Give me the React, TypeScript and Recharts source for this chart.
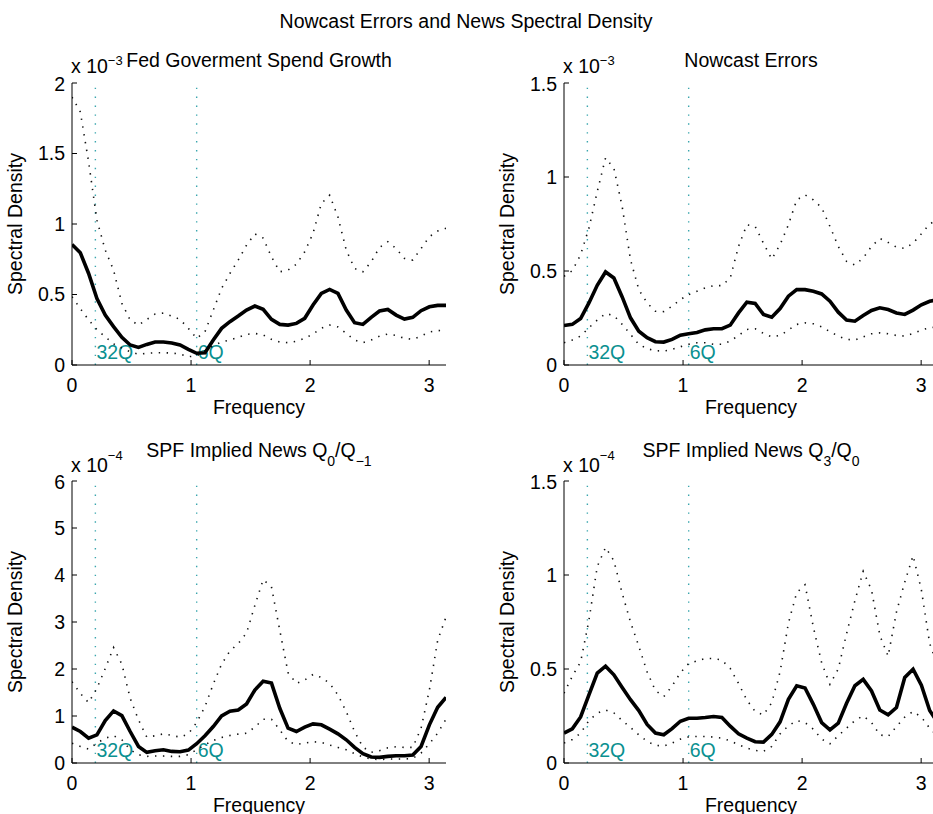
import React from 'react';
import { LineChart, Line, XAxis, YAxis, ReferenceLine } from 'recharts';

const FONT = '"Liberation Sans", Arial, Helvetica, sans-serif';
const TEAL = '#0a9090';
const REF_LINE = '#3aa6ae';
const FS = 19.5;

// frequency grid (radians), 0..pi
const freq = [
  0, 0.0698, 0.1396, 0.2094, 0.2793, 0.3491, 0.4189, 0.4887, 0.5585, 0.6283,
  0.6981, 0.7679, 0.8378, 0.9076, 0.9774, 1.0472, 1.117, 1.1868, 1.2566, 1.3265,
  1.3963, 1.4661, 1.5359, 1.6057, 1.6755, 1.7453, 1.8151, 1.885, 1.9548, 2.0246,
  2.0944, 2.1642, 2.234, 2.3038, 2.3736, 2.4435, 2.5133, 2.5831, 2.6529, 2.7227,
  2.7925, 2.8623, 2.9322, 3.002, 3.0718, 3.1416,
];

// periods marked with vertical lines
const periods = [32, 6];

// Fed Goverment Spend Growth (x 1e-3)
const fedMid = [0.855, 0.796, 0.649, 0.472, 0.354, 0.272, 0.196, 0.142, 0.125, 0.146, 0.163, 0.163, 0.156, 0.142, 0.111, 0.083, 0.087, 0.177, 0.26, 0.307, 0.347, 0.39, 0.418, 0.395, 0.324, 0.288, 0.283, 0.295, 0.331, 0.425, 0.508, 0.536, 0.508, 0.39, 0.3, 0.288, 0.338, 0.383, 0.394, 0.354, 0.326, 0.338, 0.385, 0.413, 0.423, 0.423];
const fedHi = [1.9, 1.795, 1.44, 1.027, 0.815, 0.673, 0.437, 0.319, 0.283, 0.323, 0.361, 0.368, 0.347, 0.323, 0.26, 0.189, 0.236, 0.39, 0.543, 0.649, 0.744, 0.85, 0.93, 0.9, 0.767, 0.661, 0.673, 0.715, 0.803, 0.933, 1.145, 1.204, 1.05, 0.815, 0.685, 0.661, 0.732, 0.834, 0.874, 0.826, 0.756, 0.744, 0.826, 0.91, 0.95, 0.97];
const fedLo = [0.484, 0.4, 0.32, 0.25, 0.2, 0.15, 0.12, 0.094, 0.076, 0.083, 0.087, 0.087, 0.085, 0.078, 0.059, 0.064, 0.1, 0.137, 0.163, 0.177, 0.196, 0.217, 0.224, 0.213, 0.182, 0.163, 0.158, 0.168, 0.189, 0.22, 0.26, 0.283, 0.27, 0.224, 0.177, 0.158, 0.177, 0.205, 0.22, 0.21, 0.189, 0.182, 0.205, 0.234, 0.243, 0.248];

// Nowcast Errors (x 1e-3)
const ncMid = [0.21, 0.216, 0.247, 0.33, 0.424, 0.495, 0.463, 0.362, 0.251, 0.18, 0.145, 0.124, 0.122, 0.136, 0.159, 0.166, 0.173, 0.187, 0.193, 0.193, 0.212, 0.277, 0.334, 0.327, 0.269, 0.254, 0.3, 0.366, 0.401, 0.401, 0.392, 0.378, 0.339, 0.281, 0.239, 0.233, 0.263, 0.29, 0.304, 0.295, 0.277, 0.269, 0.292, 0.32, 0.339, 0.348];
const ncHi = [0.472, 0.502, 0.587, 0.728, 0.922, 1.102, 1.046, 0.843, 0.56, 0.401, 0.33, 0.286, 0.284, 0.313, 0.348, 0.375, 0.392, 0.41, 0.422, 0.422, 0.463, 0.631, 0.746, 0.737, 0.648, 0.564, 0.64, 0.746, 0.878, 0.905, 0.878, 0.837, 0.737, 0.631, 0.551, 0.532, 0.569, 0.631, 0.673, 0.652, 0.627, 0.62, 0.648, 0.698, 0.751, 0.772];
const ncLo = [0.118, 0.133, 0.154, 0.198, 0.239, 0.274, 0.263, 0.216, 0.163, 0.11, 0.087, 0.076, 0.074, 0.083, 0.097, 0.11, 0.118, 0.118, 0.11, 0.11, 0.127, 0.157, 0.189, 0.193, 0.168, 0.15, 0.157, 0.186, 0.216, 0.224, 0.219, 0.203, 0.177, 0.154, 0.136, 0.133, 0.15, 0.166, 0.171, 0.166, 0.157, 0.154, 0.168, 0.186, 0.198, 0.203];

// SPF Implied News Q0/Q-1 (x 1e-4)
const q0Mid = [0.762, 0.67, 0.529, 0.6, 0.903, 1.108, 1.009, 0.67, 0.353, 0.226, 0.261, 0.282, 0.247, 0.24, 0.275, 0.41, 0.579, 0.776, 1.0, 1.1, 1.129, 1.256, 1.553, 1.74, 1.7, 1.164, 0.741, 0.67, 0.762, 0.833, 0.812, 0.72, 0.621, 0.494, 0.332, 0.198, 0.127, 0.12, 0.141, 0.155, 0.155, 0.169, 0.353, 0.812, 1.186, 1.397];
const q0Hi = [1.729, 1.482, 1.284, 1.588, 2.011, 2.456, 2.103, 1.376, 0.917, 0.55, 0.579, 0.621, 0.586, 0.55, 0.621, 0.861, 1.2, 1.68, 2.103, 2.385, 2.54, 2.766, 3.352, 3.9, 3.75, 2.823, 1.92, 1.694, 1.764, 1.884, 1.82, 1.694, 1.447, 1.094, 0.67, 0.339, 0.226, 0.261, 0.325, 0.346, 0.332, 0.332, 0.741, 1.553, 2.611, 3.105];
const q0Lo = [0.423, 0.353, 0.296, 0.423, 0.529, 0.579, 0.494, 0.282, 0.176, 0.141, 0.148, 0.148, 0.141, 0.141, 0.176, 0.282, 0.388, 0.48, 0.543, 0.586, 0.614, 0.635, 0.762, 0.932, 0.932, 0.706, 0.459, 0.395, 0.423, 0.452, 0.438, 0.381, 0.332, 0.282, 0.198, 0.127, 0.085, 0.071, 0.085, 0.085, 0.085, 0.099, 0.212, 0.409, 0.635, 0.932];

// SPF Implied News Q3/Q0 (x 1e-4)
const q3Mid = [0.159, 0.182, 0.245, 0.362, 0.478, 0.515, 0.469, 0.402, 0.337, 0.279, 0.205, 0.159, 0.15, 0.183, 0.222, 0.238, 0.238, 0.242, 0.247, 0.242, 0.196, 0.155, 0.132, 0.113, 0.111, 0.152, 0.219, 0.339, 0.411, 0.399, 0.312, 0.215, 0.176, 0.212, 0.318, 0.411, 0.445, 0.383, 0.282, 0.256, 0.295, 0.455, 0.499, 0.414, 0.279, 0.212];
const q3Hi = [0.371, 0.462, 0.538, 0.759, 1.045, 1.147, 1.076, 0.903, 0.75, 0.621, 0.485, 0.385, 0.353, 0.409, 0.48, 0.529, 0.543, 0.556, 0.556, 0.547, 0.503, 0.423, 0.335, 0.274, 0.256, 0.321, 0.485, 0.744, 0.906, 0.948, 0.723, 0.533, 0.418, 0.5, 0.688, 0.863, 1.02, 0.921, 0.679, 0.568, 0.803, 0.962, 1.103, 0.921, 0.635, 0.512];
const q3Lo = [0.106, 0.125, 0.159, 0.226, 0.265, 0.282, 0.266, 0.226, 0.189, 0.15, 0.115, 0.094, 0.09, 0.106, 0.127, 0.139, 0.141, 0.141, 0.138, 0.132, 0.118, 0.097, 0.079, 0.067, 0.062, 0.088, 0.155, 0.198, 0.226, 0.215, 0.18, 0.127, 0.102, 0.145, 0.185, 0.226, 0.251, 0.215, 0.15, 0.141, 0.194, 0.244, 0.274, 0.244, 0.185, 0.141];

const xTicks = [0, 1, 2, 3];
const ticks15 = [0, 0.5, 1, 1.5];
const ticks2 = [0, 0.5, 1, 1.5, 2];
const ticks6 = [0, 1, 2, 3, 4, 5, 6];

const PLOT_W = 374;
const PLOT_H = 282;
const YAXIS_W = 70;
const TOP_PAD = 10;
const XAXIS_H = 50;

const refLabel = (text: string) => (props: any) => {
  const vb = props.viewBox || {};
  return (
    <text x={vb.x + 1} y={vb.y + vb.height - 6} fill={TEAL} fontSize={FS} fontFamily={FONT}>
      {text}
    </text>
  );
};

type PanelProps = {
  left: number;
  top: number;
  mid: number[];
  lo: number[];
  hi: number[];
  yMax: number;
  yTicks: number[];
};

const Panel = ({ left, top, mid, lo, hi, yMax, yTicks }: PanelProps) => {
  const data = freq.map((f, i) => ({ f, mid: mid[i], lo: lo[i], hi: hi[i] }));
  const tickStyle = { fill: '#000', fontSize: FS, fontFamily: FONT };
  return (
    <div style={{ position: 'absolute', left: left - YAXIS_W, top: top - TOP_PAD }}>
      <LineChart
        width={YAXIS_W + PLOT_W + 10}
        height={TOP_PAD + PLOT_H + XAXIS_H}
        data={data}
        margin={{ top: TOP_PAD, right: 10, left: 0, bottom: 0 }}
      >
        <XAxis
          dataKey="f"
          type="number"
          domain={[0, Math.PI]}
          ticks={xTicks}
          allowDataOverflow
          height={XAXIS_H}
          tickSize={-5}
          tickMargin={18}
          stroke="#000"
          tick={tickStyle}
        />
        <YAxis
          type="number"
          domain={[0, yMax]}
          ticks={yTicks}
          allowDataOverflow
          width={YAXIS_W}
          tickSize={-5}
          tickMargin={12}
          stroke="#000"
          tick={tickStyle}
        />
        {periods.map((p) => (
          <ReferenceLine
            key={p}
            x={(2 * Math.PI) / p}
            stroke={REF_LINE}
            strokeWidth={1.4}
            strokeDasharray="1.4 7.5"
            label={refLabel(`${p}Q`)}
          />
        ))}
        <Line type="linear" dataKey="hi" stroke="#111" strokeWidth={1.6} strokeDasharray="1.4 6.5" dot={false} isAnimationActive={false} />
        <Line type="linear" dataKey="lo" stroke="#111" strokeWidth={1.6} strokeDasharray="1.4 6.5" dot={false} isAnimationActive={false} />
        <Line type="linear" dataKey="mid" stroke="#000" strokeWidth={3.6} dot={false} isAnimationActive={false} />
      </LineChart>
    </div>
  );
};

const AxisTexts = ({ left, top }: { left: number; top: number }) => (
  <g>
    <text
      transform={`translate(${left - 50},${top + PLOT_H / 2}) rotate(-90)`}
      textAnchor="middle"
    >
      Spectral Density
    </text>
    <text x={left + PLOT_W / 2} y={top + PLOT_H + 48.5} textAnchor="middle">
      Frequency
    </text>
  </g>
);

export default function App() {
  return (
    <div
      style={{
        position: 'absolute',
        left: 0,
        top: 0,
        width: 933,
        height: 814,
        overflow: 'hidden',
        background: '#fff',
      }}
    >
      <Panel left={72} top={83} mid={fedMid} lo={fedLo} hi={fedHi} yMax={2} yTicks={ticks2} />
      <Panel left={564} top={83} mid={ncMid} lo={ncLo} hi={ncHi} yMax={1.5} yTicks={ticks15} />
      <Panel left={72} top={481} mid={q0Mid} lo={q0Lo} hi={q0Hi} yMax={6} yTicks={ticks6} />
      <Panel left={564} top={481} mid={q3Mid} lo={q3Lo} hi={q3Hi} yMax={1.5} yTicks={ticks15} />

      <svg
        width={933}
        height={814}
        style={{ position: 'absolute', left: 0, top: 0, pointerEvents: 'none' }}
        fontFamily={FONT}
        fontSize={FS}
        fill="#000"
      >
        <text x={466} y={28} textAnchor="middle">
          Nowcast Errors and News Spectral Density
        </text>

        <text x={71} y={73}>
          x 10<tspan fontSize={13} dy={-8}>−3</tspan>
        </text>
        <text x={259} y={67} textAnchor="middle">Fed Goverment Spend Growth</text>

        <text x={563} y={73}>
          x 10<tspan fontSize={13} dy={-8}>−3</tspan>
        </text>
        <text x={751} y={67} textAnchor="middle">Nowcast Errors</text>

        <text x={71} y={472}>
          x 10<tspan fontSize={13} dy={-12}>−4</tspan>
        </text>
        <text x={259} y={457} textAnchor="middle">
          SPF Implied News Q<tspan fontSize={14} dy={9}>0</tspan>
          <tspan dy={-9}>/Q</tspan>
          <tspan fontSize={14} dy={9}>−1</tspan>
        </text>

        <text x={563} y={472}>
          x 10<tspan fontSize={13} dy={-12}>−4</tspan>
        </text>
        <text x={751} y={457} textAnchor="middle">
          SPF Implied News Q<tspan fontSize={14} dy={9}>3</tspan>
          <tspan dy={-9}>/Q</tspan>
          <tspan fontSize={14} dy={9}>0</tspan>
        </text>

        <AxisTexts left={72} top={83} />
        <AxisTexts left={564} top={83} />
        <AxisTexts left={72} top={481} />
        <AxisTexts left={564} top={481} />
      </svg>
    </div>
  );
}
